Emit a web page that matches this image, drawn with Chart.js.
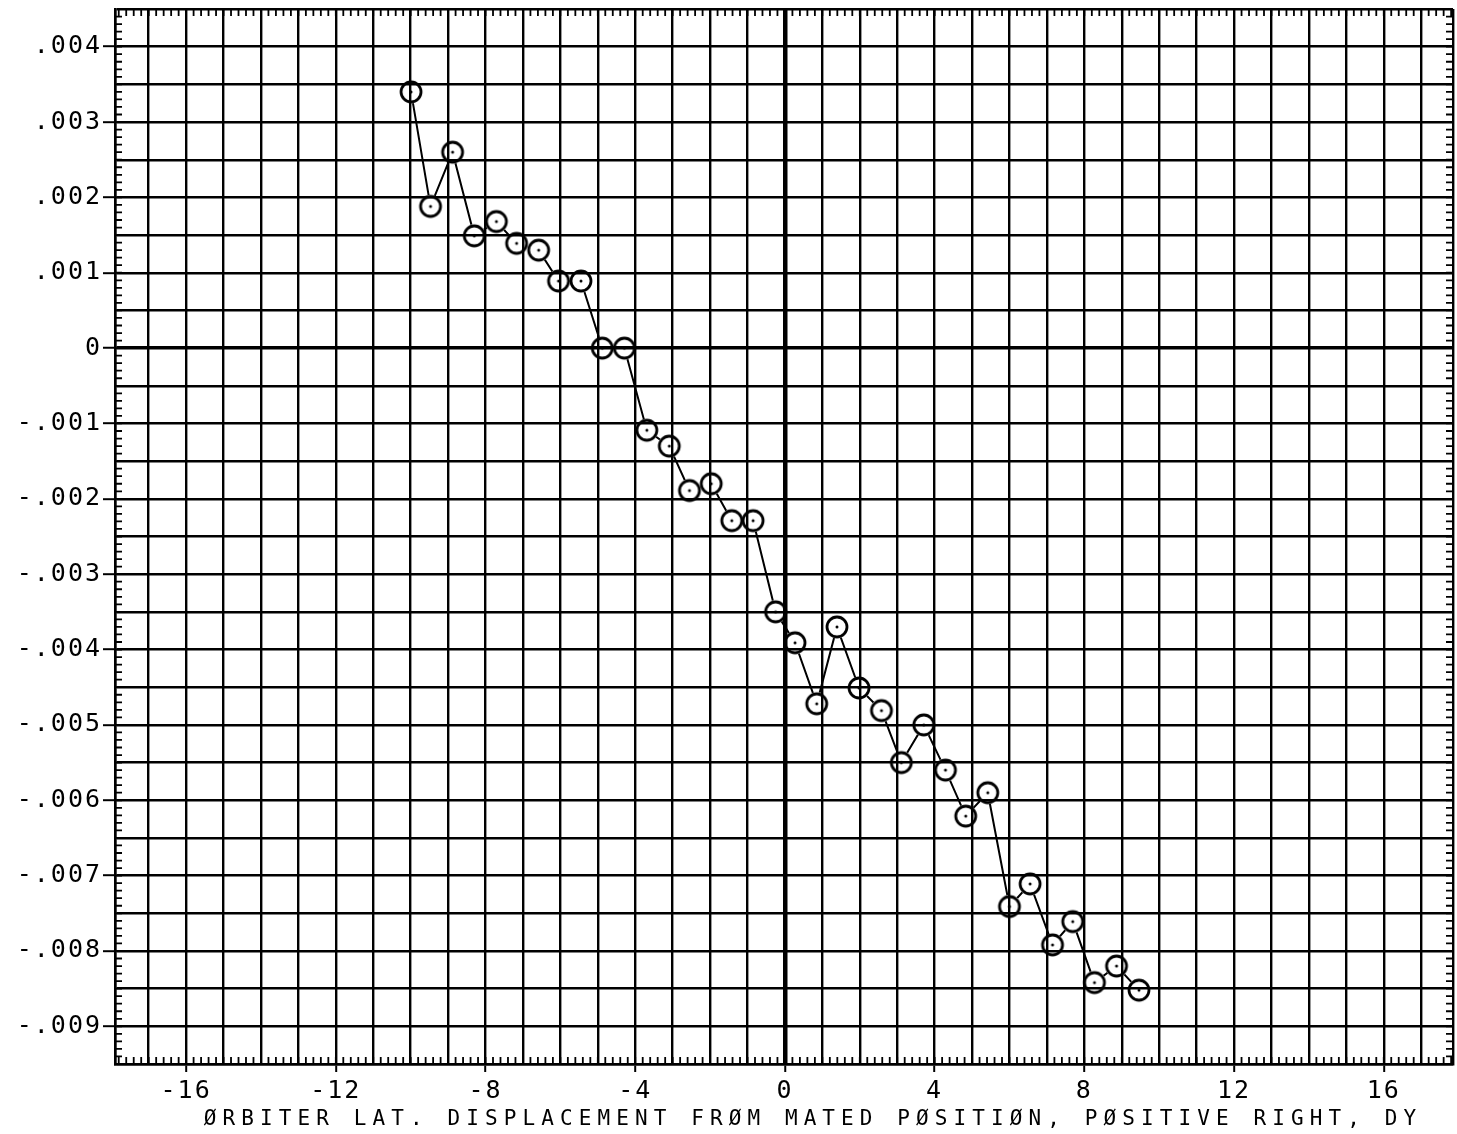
<!DOCTYPE html>
<html>
<head>
<meta charset="utf-8">
<script src="https://cdn.jsdelivr.net/npm/chart.js@4.4.0/dist/chart.umd.min.js"></script>
<style>
  html, body { margin: 0; padding: 0; background: #fff; }
  canvas { display: block; }
</style>
</head>
<body>
<canvas id="dyChart" width="1457" height="1134"></canvas>
<script>
// Lateral displacement sweep

const dyValues = [-9.99, -9.47, -8.88, -8.30, -7.71, -7.17, -6.58, -6.05, -5.45, -4.88,
                  -4.29, -3.69, -3.09, -2.55, -1.97, -1.42, -0.85, -0.25, 0.27, 0.85,
                  1.39, 1.98, 2.58, 3.11, 3.71, 4.29, 4.83, 5.42, 6.00, 6.55,
                  7.15, 7.69, 8.27, 8.86, 9.46];
const coefValues = [0.0034, 0.00188, 0.0026, 0.00149, 0.00168, 0.00139, 0.0013, 0.00089, 0.00089, 0,
                    0, -0.00109, -0.0013, -0.00189, -0.0018, -0.00229, -0.00229, -0.0035, -0.00391, -0.00472,
                    -0.0037, -0.00451, -0.00481, -0.0055, -0.005, -0.0056, -0.00621, -0.0059, -0.00741, -0.00711,
                    -0.00792, -0.00761, -0.00842, -0.0082, -0.00852];

const xTickValues = [-16, -12, -8, -4, 0, 4, 8, 12, 16];
const xTickLabels = ['-16', '-12', '-8', '-4', '0', '4', '8', '12', '16'];
const yTickValues = [0.004, 0.003, 0.002, 0.001, 0, -0.001, -0.002, -0.003, -0.004, -0.005, -0.006, -0.007, -0.008, -0.009];
const yTickLabels = ['.004', '.003', '.002', '.001', '0', '-.001', '-.002', '-.003', '-.004', '-.005', '-.006', '-.007', '-.008', '-.009'];
const xTitle = 'ØRBITER LAT. DISPLACEMENT FRØM MATED PØSITIØN, PØSITIVE RIGHT, DY';

const INK = '#000';
const FONT = '"DejaVu Sans Mono", "Liberation Mono", monospace';

function findLabel(values, labels, v) {
    const i = values.findIndex(t => Math.abs(t - v) < 1e-9);
    return i < 0 ? '' : labels[i];
}

// open plotter marker: ring with a pen dot in the middle
const marker = document.createElement('canvas');
marker.width = marker.height = 28;
(function () {
    const c = marker.getContext('2d');
    c.strokeStyle = INK;
    c.fillStyle = INK;
    c.lineWidth = 2.8;
    c.beginPath();
    c.arc(14, 14, 10, 0, Math.PI * 2);
    c.stroke();
    c.beginPath();
    c.arc(14, 14, 1.5, 0, Math.PI * 2);
    c.fill();
})();

const points = dyValues.map((v, i) => ({ x: v, y: coefValues[i] }));

// connecting line stops at the marker edge
const hollowMarkers = {
    id: 'hollowMarkers',
    beforeDatasetDraw(chart, args) {
        if (args.index !== 0) return;
        const ctx = chart.ctx;
        ctx.save();
        ctx.beginPath();
        ctx.rect(0, 0, chart.width, chart.height);
        args.meta.data.forEach(p => {
            ctx.moveTo(p.x + 11.5, p.y);
            ctx.arc(p.x, p.y, 11.5, 0, Math.PI * 2);
        });
        ctx.clip('evenodd');
    },
    afterDatasetDraw(chart, args) {
        if (args.index === 0) chart.ctx.restore();
    }
};

// small inward ticks on all four sides of the frame
const minorTicks = {
    id: 'minorTicks',
    beforeDatasetsDraw(chart) {
        const { ctx, chartArea: a, scales: { x, y } } = chart;
        ctx.save();
        ctx.strokeStyle = INK;
        ctx.lineWidth = 1.8;
        ctx.beginPath();
        for (let i = -89; i <= 89; i++) {
            const px = x.getPixelForValue(i / 5);
            ctx.moveTo(px, a.bottom); ctx.lineTo(px, a.bottom - 7);
            ctx.moveTo(px, a.top); ctx.lineTo(px, a.top + 7);
        }
        for (let k = -94; k <= 44; k++) {
            const py = y.getPixelForValue(k / 10000);
            ctx.moveTo(a.left, py); ctx.lineTo(a.left + 7, py);
            ctx.moveTo(a.right, py); ctx.lineTo(a.right - 7, py);
        }
        ctx.stroke();
        ctx.restore();
    }
};

// wide plotter lettering: tick labels get a little tracking, caption more
const plotterLettering = {
    id: 'plotterLettering',
    beforeDraw(chart) {
        chart.ctx.letterSpacing = '2px';
    },
    afterDraw(chart) {
        const { ctx, chartArea: a } = chart;
        ctx.save();
        ctx.font = '21px ' + FONT;
        ctx.letterSpacing = '6.1px';
        ctx.fillStyle = INK;
        ctx.textAlign = 'center';
        ctx.textBaseline = 'alphabetic';
        ctx.fillText(xTitle, (a.left + a.right) / 2 + 29, a.bottom + 61);
        ctx.restore();
        ctx.letterSpacing = '0px';
    }
};

new Chart(document.getElementById('dyChart').getContext('2d'), {
    type: 'line',
    data: {
        datasets: [{
            data: points,
            borderColor: INK,
            borderWidth: 2,
            tension: 0,
            fill: false,
            pointRadius: 0,
            order: 2
        }, {
            data: points,
            showLine: false,
            pointStyle: marker,
            pointRadius: 11,
            order: 1
        }]
    },
    options: {
        responsive: false,
        animation: false,
        devicePixelRatio: 1,
        layout: { autoPadding: false, padding: { top: 9, right: 4, left: 0, bottom: 0 } },
        plugins: { legend: { display: false }, tooltip: { enabled: false } },
        scales: {
            x: {
                type: 'linear',
                min: -17.9,
                max: 17.85,
                afterBuildTicks(scale) {
                    const t = [{ value: -17.9 }];
                    for (let v = -17; v <= 17; v++) t.push({ value: v });
                    t.push({ value: 17.85 });
                    scale.ticks = t;
                },
                afterFit(scale) {
                    scale.height = 70;
                    scale.paddingLeft = 0;
                    scale.paddingRight = 0;
                },
                grid: {
                    color: INK,
                    lineWidth: c => (c.tick && Math.abs(c.tick.value) < 1e-9 ? 4.5 : 2.4),
                    tickLength: 8,
                    tickWidth: 2,
                    tickColor: c => (c.tick && findLabel(xTickValues, xTickLabels, c.tick.value) ? INK : 'rgba(0,0,0,0)')
                },
                border: { display: true, color: INK, width: 2.5 },
                ticks: {
                    autoSkip: false,
                    maxRotation: 0,
                    color: INK,
                    padding: 4,
                    font: { family: FONT, size: 25 },
                    callback: v => findLabel(xTickValues, xTickLabels, v)
                }
            },
            y: {
                type: 'linear',
                min: -0.0095,
                max: 0.0045,
                afterBuildTicks(scale) {
                    const t = [];
                    for (let k = -19; k <= 9; k++) t.push({ value: k * 0.0005 });
                    scale.ticks = t;
                },
                afterFit(scale) {
                    scale.width = 115;
                    scale.paddingTop = 0;
                    scale.paddingBottom = 0;
                },
                grid: {
                    color: INK,
                    lineWidth: c => (c.tick && Math.abs(c.tick.value) < 1e-9 ? 3.5 : 2.4),
                    tickLength: 12,
                    tickWidth: 2,
                    tickColor: c => (c.tick && findLabel(yTickValues, yTickLabels, c.tick.value) ? INK : 'rgba(0,0,0,0)')
                },
                border: { display: true, color: INK, width: 2.5 },
                ticks: {
                    autoSkip: false,
                    color: INK,
                    padding: 1,
                    font: { family: FONT, size: 25 },
                    callback: v => findLabel(yTickValues, yTickLabels, v)
                }
            }
        }
    },
    plugins: [hollowMarkers, minorTicks, plotterLettering]
});
</script>
</body>
</html>
